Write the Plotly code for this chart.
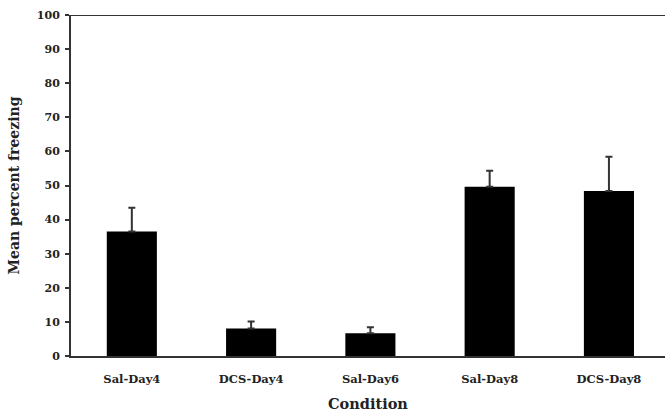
import plotly.graph_objects as go

categories = ["Sal-Day4", "DCS-Day4", "Sal-Day6", "Sal-Day8", "DCS-Day8"]
means = [36.5, 8.1, 6.7, 49.6, 48.4]
errors_up = [7.0, 2.0, 1.7, 4.7, 10.0]
y_ticks = [0, 10, 20, 30, 40, 50, 60, 70, 80, 90, 100]

font_family = "DejaVu Serif"

fig = go.Figure(go.Bar(
    x=categories,
    y=means,
    width=0.42,
    marker=dict(color="black", line=dict(color="black", width=0)),
    error_y=dict(type="data", symmetric=False, array=errors_up,
                 arrayminus=[0] * len(means), color="#333333",
                 thickness=2, width=3.5),
))

fig.update_layout(
    width=665, height=412,
    margin=dict(l=71, r=0, t=15, b=56),
    plot_bgcolor="white", paper_bgcolor="white",
    showlegend=False,
    font=dict(family=font_family, color="#222222"),
    xaxis=dict(
        range=[-0.51, 4.47],
        showline=True, linecolor="#333333", linewidth=2, mirror=False,
        ticks="", tickfont=dict(size=11.5, color="#222222", weight="bold"),
        ticklabelstandoff=11,
        title=dict(text="<b>Condition</b>", font=dict(size=14.5), standoff=14),
    ),
    yaxis=dict(
        range=[0, 100], tickvals=y_ticks,
        showline=True, linecolor="#333333", linewidth=2,
        ticks="outside", ticklen=4, tickwidth=1.5, tickcolor="#333333",
        showgrid=False, zeroline=False,
        ticklabelstandoff=3,
        tickfont=dict(size=11, color="#222222", weight="bold"),
        title=dict(text="<b>Mean percent freezing</b>", font=dict(size=14), standoff=14),
    ),
    shapes=[dict(type="line", xref="paper", yref="y", x0=0, x1=1, y0=100, y1=100,
                 line=dict(color="#333333", width=2))],
)

fig.write_html("out.html", config={"displayModeBar": False},
               post_script="document.body.style.margin='0';")
